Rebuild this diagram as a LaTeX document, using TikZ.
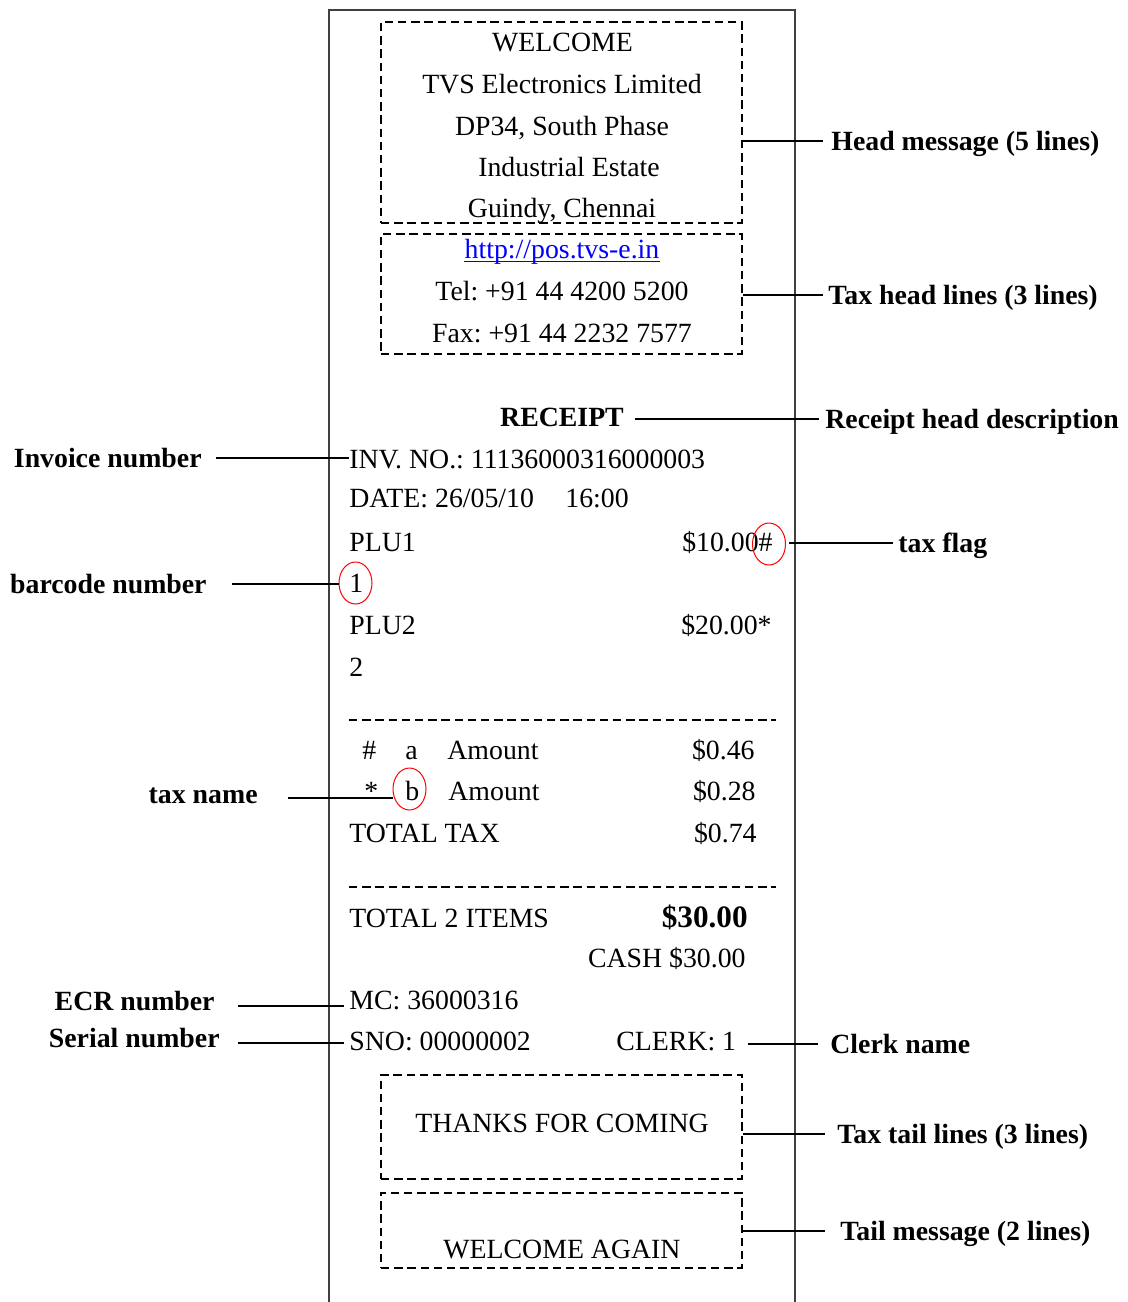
\documentclass[tikz,border=0pt]{standalone}
\usepackage{fontspec}
\setmainfont{Liberation Serif}
\usetikzlibrary{shapes.geometric}

\newcommand{\rcptfont}{\fontsize{13.9}{16}\selectfont}

\begin{document}
\frenchspacing
\begin{tikzpicture}[x=0.5pt,y=-0.5pt,
    every node/.style={inner sep=0pt,font=\rcptfont},
    txt/.style={anchor=base west},
    ctxt/.style={anchor=base},
    rtxt/.style={anchor=base east},
    lbl/.style={font=\rcptfont\bfseries,text height=9.2pt,text depth=0pt},
    msgbox/.style={draw,dash pattern=on 4.2pt off 2.4pt,line width=0.9pt,minimum width=180.5pt},
    ring/.style={draw=red,ellipse,line width=0.5pt,minimum width=16.5pt,minimum height=21pt},
    conn/.style={line width=0.9pt}]
    \useasboundingbox (0,0) rectangle (1128,1302);

    % paper strip
    \draw[black!75,line width=0.8pt] (329,1302) |- (795,10) -- (795,1302);

    % head message and tax head lines
    \node[msgbox,minimum height=100.5pt] (headbox) at (561.5,122.5){};
    \node[ctxt] (w1) at (562.5,51){WELCOME};
    \node[ctxt] (w2) at (562,93){TVS Electronics Limited};
    \node[ctxt] (w3) at (562,135){DP34, South Phase};
    \node[ctxt] (w4) at (569,176){Industrial Estate};
    \node[ctxt] (w5) at (562,217){Guindy, Chennai};

    \node[msgbox,minimum height=60pt] (taxheadbox) at (561.5,294){};
    \node[ctxt,text=blue] (link) at (562,258){http://pos.tvs-e.in};
    \draw[blue,line width=0.9pt] ([yshift=-1.7pt]link.base west) -- ([yshift=-1.7pt]link.base east);
    \node[ctxt] (tel) at (562,300){Tel: +91 44 4200 5200};
    \node[ctxt] (fax) at (562,342){Fax: +91 44 2232 7577};

    % receipt body
    \node[ctxt,font=\rcptfont\bfseries] (rcpt) at (562,426){RECEIPT};
    \node[txt] (inv) at (349,468){INV. NO.: 11136000316000003};
    \node[txt] (date) at (349,507){DATE: 26/05/10};
    \node[txt] (time) at (565,507){16:00};
    \node[txt] (plu1) at (349,551){PLU1};
    \node[rtxt] (price1) at (773,551){\$10.00\#};
    \node[ring] (hashring) at (769,544){};
    \node[txt] (bc1) at (349,592){1};
    \node[ring] (bcring) at (355.5,583){};
    \node[txt] (plu2) at (349,634){PLU2};
    \node[rtxt] (price2) at (772,634){\$20.00*};
    \node[txt] (bc2) at (349,676){2};

    \draw[dash pattern=on 4.2pt off 2.4pt,line width=0.9pt] (349,720) -- (776,720);

    \node[txt] (flaga) at (362,759){\#};
    \node[txt] (taxa) at (405,759){a};
    \node[txt] (amta) at (447,759){Amount};
    \node[rtxt] (vala) at (755,759){\$0.46};
    \node[txt] (flagb) at (364,800){*};
    \node[txt] (taxb) at (405,800){b};
    \node[ring] (bring) at (409.5,789){};
    \node[txt] (amtb) at (448,800){Amount};
    \node[rtxt] (valb) at (756,800){\$0.28};
    \node[txt] (tottax) at (349,842){TOTAL TAX};
    \node[rtxt] (tottaxval) at (757,842){\$0.74};

    \draw[dash pattern=on 4.2pt off 2.4pt,line width=0.9pt] (349,887) -- (776,887);

    \node[txt] (totitems) at (349,927){TOTAL 2 ITEMS};
    \node[rtxt,font=\fontsize{15.6}{18}\selectfont\bfseries] (total) at (748,927){\$30.00};
    \node[rtxt] (cash) at (746,967){CASH \$30.00};
    \node[txt] (mc) at (349,1009){MC: 36000316};
    \node[txt] (sno) at (349,1050){SNO: 00000002};
    \node[txt] (clerk) at (616,1050){CLERK: 1};

    % tax tail lines and tail message
    \node[msgbox,minimum height=52pt] (taxtailbox) at (561.5,1127){};
    \node[ctxt] (thanks) at (562,1132){THANKS FOR COMING};
    \node[msgbox,minimum height=37.5pt] (tailbox) at (561.5,1230.5){};
    \node[ctxt] (again) at (562,1258){WELCOME AGAIN};

    % labels
    \node[lbl,anchor=base east] (invlbl) at (202,467){Invoice number};
    \node[lbl,anchor=base east] (bclbl) at (207,593){barcode number};
    \node[lbl,anchor=base east] (tnlbl) at (258,803){tax name};
    \node[lbl,anchor=base east] (ecrlbl) at (215,1010){ECR number};
    \node[lbl,anchor=base east] (snlbl) at (220,1047){Serial number};
    \node[lbl,anchor=base west] (headlbl) at (831,150){Head message (5 lines)};
    \node[lbl,anchor=base west] (thlbl) at (828,304){Tax head lines (3 lines)};
    \node[lbl,anchor=base west] (rdlbl) at (825,428){Receipt head description};
    \node[lbl,anchor=base west] (flaglbl) at (898,552){tax flag};
    \node[lbl,anchor=base west] (clklbl) at (830,1053){Clerk name};
    \node[lbl,anchor=base west] (ttlbl) at (837,1143){Tax tail lines (3 lines)};
    \node[lbl,anchor=base west] (tmlbl) at (840,1240){Tail message (2 lines)};

    % connectors
    \draw[conn,shorten <=7pt] (invlbl.east) -- (invlbl.east -| inv.west);
    \draw[conn,shorten <=12.5pt] (bclbl.east) -- (bclbl.east -| bcring.west);
    \draw[conn,shorten <=15pt] ([yshift=-2pt]tnlbl.east) -- ([yshift=-2pt]tnlbl.east -| bring.west);
    \draw[conn,shorten <=11.5pt,shorten >=2.5pt] ([yshift=-2.5pt]ecrlbl.east) -- ([yshift=-2.5pt]ecrlbl.east -| mc.west);
    \draw[conn,shorten <=9pt,shorten >=2.5pt] ([yshift=-2.5pt]snlbl.east) -- ([yshift=-2.5pt]snlbl.east -| sno.west);
    \draw[conn,shorten >=4pt] (headbox.east |- headlbl.west) -- (headlbl.west);
    \draw[conn,shorten >=2.5pt] (taxheadbox.east |- thlbl.west) -- (thlbl.west);
    \draw[conn,shorten <=5.5pt,shorten >=3pt] (rdlbl.west -| rcpt.east) -- (rdlbl.west);
    \draw[conn,shorten <=1.5pt,shorten >=2.5pt] (flaglbl.west -| hashring.east) -- (flaglbl.west);
    \draw[conn,shorten <=5.5pt,shorten >=6pt] (clklbl.west -| clerk.east) -- (clklbl.west);
    \draw[conn,shorten >=6pt] (taxtailbox.east |- ttlbl.west) -- (ttlbl.west);
    \draw[conn,shorten >=7.5pt] (tailbox.east |- tmlbl.west) -- (tmlbl.west);
\end{tikzpicture}
\end{document}
